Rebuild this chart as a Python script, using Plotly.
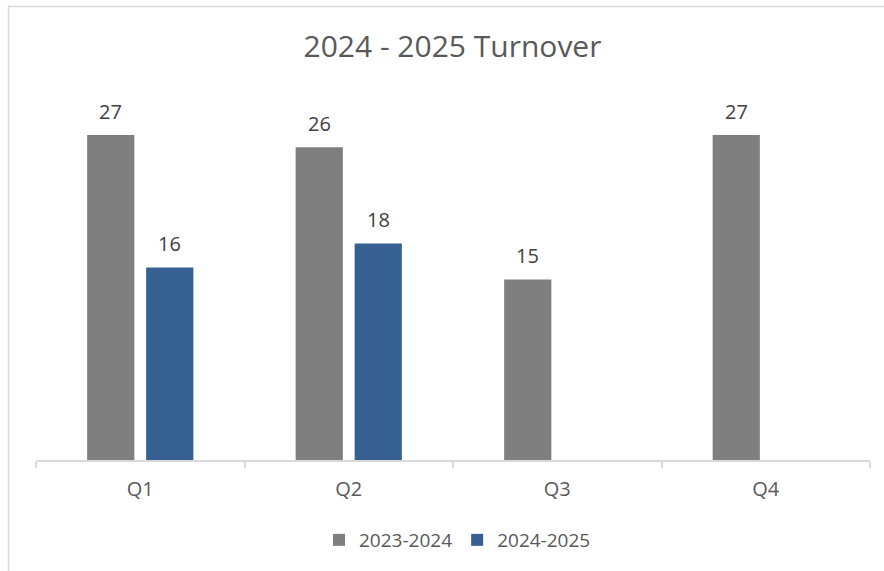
import plotly.graph_objects as go

categories = ["Q1", "Q2", "Q3", "Q4"]
series_names = ["2023-2024", "2024-2025"]
values_2023_2024 = [27, 26, 15, 27]
values_2024_2025 = [16, 18, None, None]
colors = ["#7f7f7f", "#376092"]

FONT = "Open Sans"
W, H = 884, 571
L, R, T, B = 36, 14, 99, 111
pw, ph = W - L - R, H - T - B

fig = go.Figure()
all_vals = [values_2023_2024, values_2024_2025]
for name, vals, col in zip(series_names, all_vals, colors):
    fig.add_trace(go.Bar(x=categories, y=vals, name=name, marker_color=col,
                         marker_line_width=0))

# data labels above bars
offsets = [-0.1415, 0.1415]
for vals, off in zip(all_vals, offsets):
    for i, v in enumerate(vals):
        if v is None:
            continue
        fig.add_annotation(x=i + off, y=v, xref="x", yref="y", text=str(v),
                           showarrow=False, yanchor="middle", yshift=24,
                           font=dict(family=FONT, size=20, color="#404040"))

def px2paper_x(px):
    return (px - L) / pw

def px2paper_y(py):
    return (H - B - py) / ph

fig.add_shape(type="rect", xref="paper", yref="paper",
              x0=px2paper_x(8.5), x1=px2paper_x(900), y0=px2paper_y(6.5), y1=px2paper_y(600),
              line=dict(color="#d9d9d9", width=1.5), fillcolor="rgba(0,0,0,0)", layer="below")

fig.update_layout(
    width=W, height=H,
    margin=dict(l=L, r=R, t=T, b=B),
    paper_bgcolor="white", plot_bgcolor="white",
    barmode="group", bargap=0.434, bargroupgap=0.2,
    title=dict(text="2024 - 2025 Turnover", x=px2paper_x(452.5), xref="paper", xanchor="center",
               y=1 - 46.7 / H, yref="container", yanchor="middle",
               font=dict(family=FONT, size=30, color="#595959")),
    xaxis=dict(showline=True, linecolor="#d9d9d9", linewidth=1.5,
               ticks="outside", tickson="boundaries", ticklen=6, tickcolor="#d9d9d9", tickwidth=1.5,
               tickfont=dict(family=FONT, size=20, color="#595959"),
               ticklabelstandoff=10, showgrid=False, zeroline=False),
    yaxis=dict(visible=False, range=[0, 30], showgrid=False, zeroline=False),
    legend=dict(orientation="h", x=px2paper_x(457.5), xanchor="center",
                y=px2paper_y(540), yanchor="middle",
                font=dict(family=FONT, size=19, color="#595959"),
                itemwidth=30, traceorder="normal"),
    showlegend=True,
)

fig.write_html("out.html")
